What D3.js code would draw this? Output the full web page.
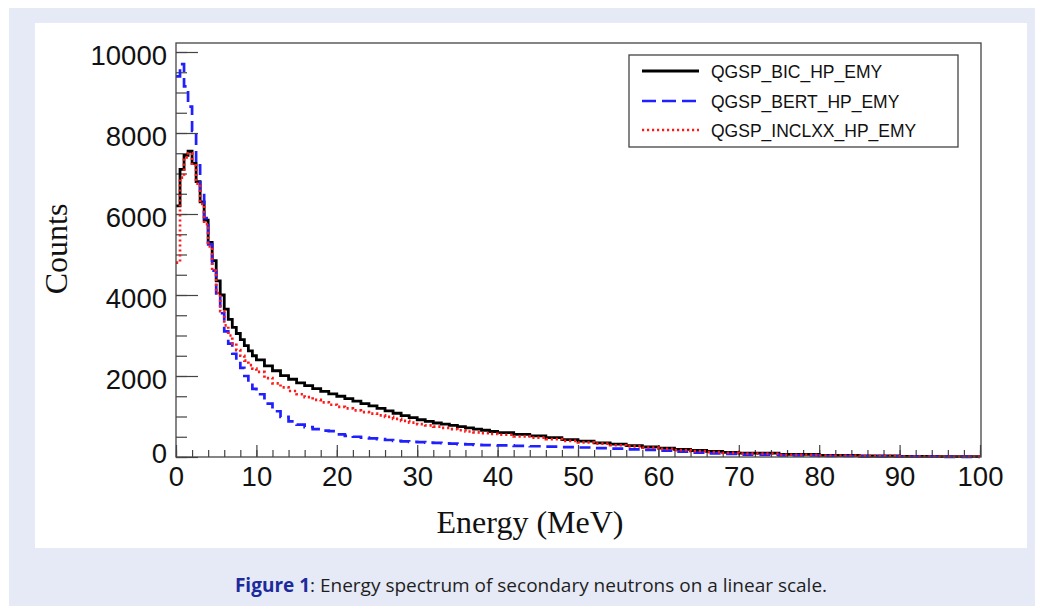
<!DOCTYPE html>
<html>
<head>
<meta charset="utf-8">
<script src="https://cdn.jsdelivr.net/npm/d3@7"></script>
<style>
  body { margin: 0; background: #ffffff; }
  svg { display: block; }
</style>
</head>
<body>
<script>
// bin lower edges (MeV), histogram ends at 100
var energy = [0,0.5,1,1.5,2,2.5,3,3.5,4,4.5,5,5.5,6,6.5,7,7.5,8,8.5,9,9.5,
  10,11,12,13,14,15,16,17,18,19,20,21,22,23,24,25,26,27,28,29,30,31,32,33,34,35,36,37,38,39,
  40,42,44,46,48,50,52,54,56,58,60,62,64,66,68,70,75,80,85,90,95];
var energyMax = 100;

var bicCounts = [6200,7100,7450,7550,7250,6800,6300,5850,5300,4850,4350,4000,3650,3400,3200,3050,2900,2750,2620,2500,
  2400,2250,2130,2010,1920,1830,1760,1690,1620,1560,1500,1440,1380,1320,1260,1200,1140,1080,1020,970,920,880,840,810,780,750,720,690,660,630,
  600,560,520,480,430,390,350,320,280,250,220,190,160,140,115,95,65,40,25,15,8];

var bertCounts = [9400,9700,9150,8650,8050,7200,6500,5900,5250,4600,4000,3550,3100,2800,2550,2380,2200,2000,1820,1680,
  1550,1320,1130,990,880,800,740,690,650,640,560,520,500,480,460,440,420,400,385,375,365,355,350,340,330,320,310,300,295,290,
  285,275,265,255,245,235,220,205,190,175,155,130,110,90,75,60,40,25,15,8,4];

var inclCounts = [4800,6900,7400,7500,7200,6750,6250,5750,5200,4600,4050,3600,3250,3000,2800,2640,2500,2380,2270,2180,
  2100,1950,1820,1720,1630,1550,1480,1410,1350,1290,1240,1200,1150,1110,1070,1030,990,940,890,850,810,780,750,720,690,660,630,610,590,570,
  550,510,480,440,400,360,330,290,260,230,200,170,145,120,100,85,55,35,22,12,6];

var seriesNames = ["QGSP_BIC_HP_EMY", "QGSP_BERT_HP_EMY", "QGSP_INCLXX_HP_EMY"];
var seriesColors = ["#000000", "#1f1fff", "#ff1a1a"];
var seriesDash = [null, "11,6", "2.2,2.8"];

var yMajor = [0, 2000, 4000, 6000, 8000, 10000];
var xMajor = [0, 10, 20, 30, 40, 50, 60, 70, 80, 90, 100];

var width = 1043, height = 606;
var plot = {left: 176, right: 980, top: 43, bottom: 457};

var svg = d3.select("body").append("svg")
    .attr("width", width)
    .attr("height", height);

// page background + white figure panel
svg.append("rect").attr("x", 9).attr("y", 8).attr("width", 1026).attr("height", 598).attr("fill", "#e6eaf6");
svg.append("rect").attr("x", 35).attr("y", 23).attr("width", 992).attr("height", 525).attr("fill", "#ffffff");

var x = d3.scaleLinear().domain([0, energyMax]).range([plot.left, plot.right]);
var y = d3.scaleLinear().domain([0, 10000]).range([plot.bottom, 52]);

// minor ticks
svg.append("g")
    .attr("class", "yMinor")
    .attr("transform", "translate(" + plot.left + ",0)")
    .call(d3.axisLeft(y).tickValues(d3.range(0, 10001, 500)).tickSizeInner(-11).tickSizeOuter(0).tickFormat(""));
svg.append("g")
    .attr("class", "xMinor")
    .attr("transform", "translate(0," + plot.bottom + ")")
    .call(d3.axisBottom(x).tickValues(d3.range(0, 101, 2)).tickSizeInner(-7).tickSizeOuter(0).tickFormat(""));

// major ticks + labels
var yAxis = svg.append("g")
    .attr("class", "yAxis")
    .attr("transform", "translate(" + plot.left + ",0)")
    .call(d3.axisLeft(y).tickValues(yMajor).tickSizeInner(-22).tickSizeOuter(0).tickPadding(9).tickFormat(d3.format("d")));
yAxis.selectAll("text").attr("dy", function(d){ return d === 0 ? "0.2em" : "0.44em"; });

var xAxis = svg.append("g")
    .attr("class", "xAxis")
    .attr("transform", "translate(0," + plot.bottom + ")")
    .call(d3.axisBottom(x).tickValues(xMajor).tickSizeInner(-12).tickSizeOuter(0).tickPadding(9).tickFormat(d3.format("d")));

svg.selectAll(".domain").remove();
svg.selectAll(".tick line").attr("stroke", "#444").attr("stroke-width", 1.2);
svg.selectAll(".yAxis text, .xAxis text")
    .attr("fill", "#111")
    .style("font-family", "'Liberation Sans', Arial, sans-serif")
    .style("font-size", "27.5px");

// histograms
var line = d3.line()
    .x(function(d){ return x(d[0]); })
    .y(function(d){ return y(d[1]); })
    .curve(d3.curveStepAfter);

[bicCounts, bertCounts, inclCounts].forEach(function(counts, i){
    var pts = energy.map(function(e, j){ return [e, counts[j]]; });
    pts.push([energyMax, counts[counts.length - 1]]);
    svg.append("path")
        .attr("d", line(pts))
        .attr("fill", "none")
        .attr("stroke", seriesColors[i])
        .attr("stroke-width", i === 0 ? 2.8 : 2.7)
        .attr("stroke-dasharray", seriesDash[i]);
});

// frame
svg.append("rect")
    .attr("x", plot.left).attr("y", plot.top)
    .attr("width", plot.right + 1 - plot.left).attr("height", plot.bottom - plot.top)
    .attr("fill", "none").attr("stroke", "#444").attr("stroke-width", 1.3);

// axis titles
svg.append("text")
    .attr("transform", "translate(67,249),rotate(-90)")
    .attr("text-anchor", "middle")
    .style("font-family", "'Liberation Serif', 'Times New Roman', serif")
    .style("font-size", "32px")
    .attr("fill", "#111")
    .text("Counts");
svg.append("text")
    .attr("x", 530).attr("y", 533)
    .attr("text-anchor", "middle")
    .style("font-family", "'Liberation Serif', 'Times New Roman', serif")
    .style("font-size", "32px")
    .attr("fill", "#111")
    .text("Energy (MeV)");

// legend
var legend = svg.append("g").attr("class", "legend");
legend.append("rect")
    .attr("x", 629).attr("y", 55).attr("width", 329).attr("height", 92)
    .attr("fill", "#fff").attr("stroke", "#444").attr("stroke-width", 1.3);
var legendY = [71, 101, 130];
seriesNames.forEach(function(name, i){
    legend.append("line")
        .attr("x1", 642).attr("x2", 699)
        .attr("y1", legendY[i]).attr("y2", legendY[i])
        .attr("stroke", seriesColors[i])
        .attr("stroke-width", i === 0 ? 2.8 : 2.6)
        .attr("stroke-dasharray", i === 1 ? "14,6" : seriesDash[i]);
    legend.append("text")
        .attr("x", 711).attr("y", legendY[i] + 6.5)
        .style("font-family", "'Liberation Sans', Arial, sans-serif")
        .style("font-size", "17.5px")
        .attr("fill", "#111")
        .text(name);
});

// caption
var caption = svg.append("text")
    .attr("x", 531).attr("y", 592)
    .attr("text-anchor", "middle")
    .style("font-family", "'Open Sans', 'Noto Sans', sans-serif")
    .style("font-size", "19px")
    .attr("fill", "#1e1e1e");
caption.append("tspan").attr("font-weight", "bold").attr("fill", "#1c2a9c").text("Figure 1");
caption.append("tspan").text(": Energy spectrum of secondary neutrons on a linear scale.");
</script>
</body>
</html>
